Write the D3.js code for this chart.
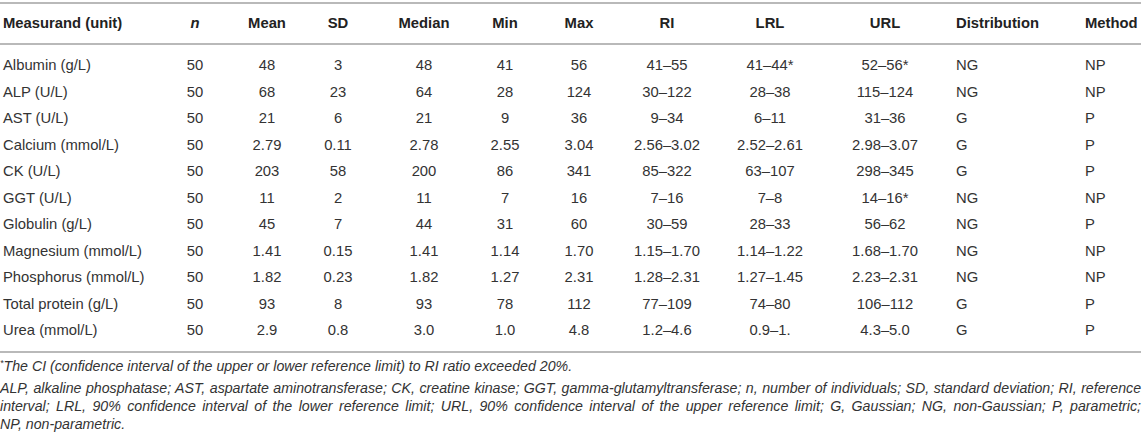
<!DOCTYPE html>
<html>
<head>
<meta charset="utf-8">
<script src="https://cdn.jsdelivr.net/npm/d3@7"></script>
<style>
  html, body { margin: 0; padding: 0; background: #fff; }
  svg { display: block; font-family: "Liberation Sans", Arial, Helvetica, sans-serif; }
</style>
</head>
<body>
<svg id="table" width="1144" height="442"></svg>
<script>
// table content
const measurands = ["Albumin (g/L)", "ALP (U/L)", "AST (U/L)", "Calcium (mmol/L)", "CK (U/L)", "GGT (U/L)",
    "Globulin (g/L)", "Magnesium (mmol/L)", "Phosphorus (mmol/L)", "Total protein (g/L)", "Urea (mmol/L)"];
const nValues = ["50", "50", "50", "50", "50", "50", "50", "50", "50", "50", "50"];
const means = ["48", "68", "21", "2.79", "203", "11", "45", "1.41", "1.82", "93", "2.9"];
const sds = ["3", "23", "6", "0.11", "58", "2", "7", "0.15", "0.23", "8", "0.8"];
const medians = ["48", "64", "21", "2.78", "200", "11", "44", "1.41", "1.82", "93", "3.0"];
const mins = ["41", "28", "9", "2.55", "86", "7", "31", "1.14", "1.27", "78", "1.0"];
const maxs = ["56", "124", "36", "3.04", "341", "16", "60", "1.70", "2.31", "112", "4.8"];
const ris = ["41–55", "30–122", "9–34", "2.56–3.02", "85–322", "7–16", "30–59", "1.15–1.70", "1.28–2.31", "77–109", "1.2–4.6"];
const lrls = ["41–44*", "28–38", "6–11", "2.52–2.61", "63–107", "7–8", "28–33", "1.14–1.22", "1.27–1.45", "74–80", "0.9–1."];
const urls = ["52–56*", "115–124", "31–36", "2.98–3.07", "298–345", "14–16*", "56–62", "1.68–1.70", "2.23–2.31", "106–112", "4.3–5.0"];
const distributions = ["NG", "NG", "G", "G", "G", "NG", "NG", "NG", "NG", "G", "G"];
const methods = ["NP", "NP", "P", "P", "P", "NP", "P", "NP", "NP", "P", "P"];

const headers = ["Measurand (unit)", "n", "Mean", "SD", "Median", "Min", "Max", "RI", "LRL", "URL", "Distribution", "Method"];

const footnoteStar = "The CI (confidence interval of the upper or lower reference limit) to RI ratio exceeded 20%.";
const footnoteLines = [
    "ALP, alkaline phosphatase; AST, aspartate aminotransferase; CK, creatine kinase; GGT, gamma-glutamyltransferase; n, number of individuals; SD, standard deviation; RI, reference",
    "interval; LRL, 90% confidence interval of the lower reference limit; URL, 90% confidence interval of the upper reference limit; G, Gaussian; NG, non-Gaussian; P, parametric;",
    "NP, non-parametric."
];

const columns = [measurands, nValues, means, sds, medians, mins, maxs, ris, lrls, urls, distributions, methods];

const tableRight = 1141;
const svg = d3.select("#table");

// column positions and alignment
const colX = d3.scaleOrdinal()
    .domain(headers)
    .range([3, 195, 267, 338, 424, 505, 579, 667, 770, 885, 956, 1085]);
const anchorOf = h => (h === "Measurand (unit)" || h === "Distribution" || h === "Method") ? "start" : "middle";

// row positions
const rowY = d3.scalePoint()
    .domain(measurands)
    .range([65, 330]);

const ruleColor = "#b9b9b9";
// horizontal rules: top, under header, under body
[3, 44, 352].forEach(y => {
    svg.append("line")
        .attr("x1", 0).attr("x2", tableRight)
        .attr("y1", y).attr("y2", y)
        .attr("stroke", ruleColor)
        .attr("stroke-width", 2);
});

// header row
svg.append("g").selectAll("text")
    .data(headers)
    .join("text")
    .attr("x", h => colX(h))
    .attr("y", 23)
    .attr("dy", "0.35em")
    .attr("text-anchor", h => anchorOf(h))
    .attr("font-size", "14.8px")
    .attr("font-weight", "bold")
    .attr("font-style", h => h === "n" ? "italic" : "normal")
    .attr("fill", "#222")
    .text(h => h);

// body cells
const cells = [];
columns.forEach((col, ci) => {
    col.forEach((v, ri) => cells.push({ header: headers[ci], row: measurands[ri], value: v }));
});

svg.append("g").selectAll("text")
    .data(cells)
    .join("text")
    .attr("x", d => colX(d.header))
    .attr("y", d => rowY(d.row))
    .attr("dy", "0.35em")
    .attr("text-anchor", d => anchorOf(d.header))
    .attr("font-size", "14.8px")
    .attr("fill", "#333")
    .text(d => d.value);

// footnotes
const foot = svg.append("g")
    .attr("font-size", "14.2px")
    .attr("font-style", "italic")
    .attr("fill", "#333");

const starLine = foot.append("text")
    .attr("x", 0)
    .attr("y", 369)
    .attr("dy", "0.35em");
starLine.append("tspan")
    .attr("font-size", "9px")
    .attr("dy", "-0.3em")
    .text("*");
starLine.append("tspan")
    .attr("dy", "0.3em")
    .text(footnoteStar);

const footY = d3.scalePoint()
    .domain(footnoteLines)
    .range([388, 424]);

foot.selectAll("text.fn")
    .data(footnoteLines)
    .join("text")
    .attr("class", "fn")
    .attr("x", 0)
    .attr("y", d => footY(d))
    .attr("dy", "0.35em")
    .text(d => d)
    .each(function(d, i) {
        // justify all but the last line to the table width
        if (i === footnoteLines.length - 1) return;
        const natural = this.getComputedTextLength();
        const gaps = d.split(" ").length - 1;
        const extra = (tableRight - natural) / gaps;
        d3.select(this).attr("word-spacing", extra.toFixed(2) + "px");
    });
</script>
</body>
</html>
